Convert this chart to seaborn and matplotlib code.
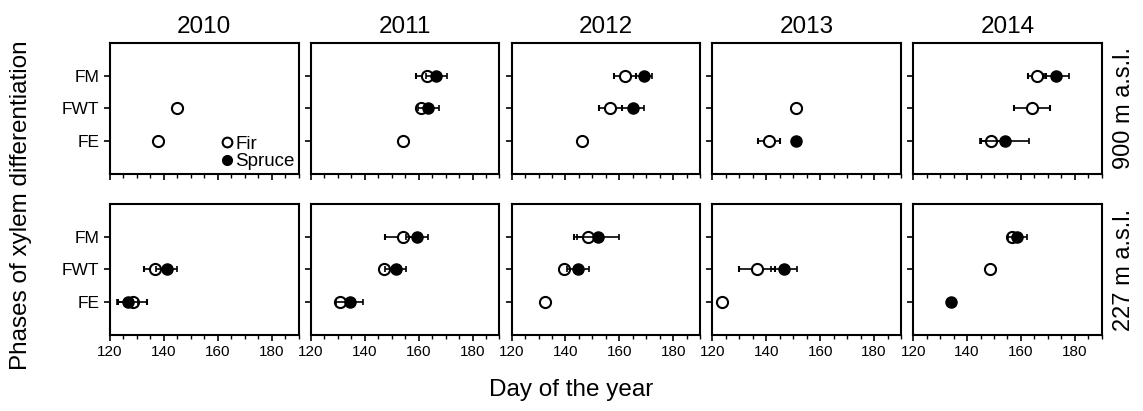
import numpy as np
import pandas as pd
import matplotlib.pyplot as plt
import seaborn as sns
from matplotlib.ticker import MultipleLocator
from matplotlib.lines import Line2D

# ---- data (day of year) ----
sites = ["900 m a.s.l.", "227 m a.s.l."]
years = [2010, 2011, 2012, 2013, 2014]
phases = ["FE", "FWT", "FM"]
nan = np.nan

# order: site -> year -> phase (FE, FWT, FM)
fir_day = [138, 145, nan,   154.1, 161, 163.2,   146, 156.7, 162.1,   140.9, 151, nan,   148.8, 164, 165.9,
           128.4, 136.6, nan,   131, 147.1, 154.2,   132.5, 139.4, 148.5,   123.6, 136.6, nan,   nan, 148.4, 156.6]
fir_err = [0, 0, nan,   0, 1.7, 4,   0, 4.4, 4,   4.1, 0, nan,   3.8, 6.6, 3.4,
           5.4, 4, nan,   0, 0, 6.6,   0, 0, 5.3,   0, 6.6, nan,   nan, 0, 0]
spruce_day = [nan, nan, nan,   nan, 163.5, 166.6,   nan, 165.1, 169.1,   151, nan, nan,   153.9, nan, 173.1,
              126.6, 141, nan,   134.5, 151.5, 159.5,   nan, 144.7, 152,   nan, 146.6, nan,   134.1, nan, 158.7]
spruce_err = [nan, nan, nan,   nan, 3.9, 3.9,   nan, 4, 3,   0, nan, nan,   9, nan, 4.6,
              3.9, 4, nan,   5, 4, 4,   nan, 4.1, 7.7,   nan, 4.9, nan,   0, nan, 3.6]

rows = []
i = 0
for s in sites:
    for y in years:
        for p in phases:
            rows.append(dict(site=s, year=y, phase=p, pos=phases.index(p) + 1,
                             fir=fir_day[i], fir_err=fir_err[i],
                             spruce=spruce_day[i], spruce_err=spruce_err[i]))
            i += 1
df = pd.DataFrame(rows)

sns.set_style("ticks", rc={"text.color": "black", "axes.labelcolor": "black",
                           "xtick.color": "black", "ytick.color": "black",
                           "axes.edgecolor": "black"})
plt.rcParams['font.family'] = ['Liberation Sans', 'DejaVu Sans']


def draw(data, **kws):
    ax = plt.gca()
    ax.errorbar(data["fir"], data["pos"], xerr=data["fir_err"], fmt="o", color="black",
                mfc="white", mec="black", mew=1.5, ms=8, elinewidth=1.2, capsize=2.5,
                capthick=1.2, zorder=3)
    ax.errorbar(data["spruce"], data["pos"], xerr=data["spruce_err"], fmt="o", color="black",
                mfc="black", mec="black", ms=8, elinewidth=1.2, capsize=2.5,
                capthick=1.2, zorder=4)


g = sns.FacetGrid(df, row="site", col="year", row_order=sites, col_order=years,
                  height=2, aspect=1.4, despine=False, sharex=True, sharey=True)
g.map_dataframe(draw)
g.figure.set_size_inches(11.43, 4.11)
g.figure.subplots_adjust(left=0.0962, right=0.964, top=0.8954, bottom=0.185,
                         wspace=0.064, hspace=0.23)

for (r, c), ax in np.ndenumerate(g.axes):
    ax.set_title("")
    ax.set_xlabel("")
    ax.set_ylabel("")
    ax.set_xlim(120, 190)
    ax.set_ylim(0, 4)
    ax.xaxis.set_major_locator(MultipleLocator(20))
    ax.xaxis.set_minor_locator(MultipleLocator(5))
    ax.set_yticks([1, 2, 3])
    ax.set_yticklabels(phases)
    ax.tick_params(axis="both", which="major", length=4, width=1.2)
    ax.tick_params(axis="x", labelsize=11)
    ax.tick_params(axis="y", labelsize=12.5)
    ax.tick_params(axis="x", which="minor", length=3, width=1.0)
    for sp in ax.spines.values():
        sp.set_linewidth(1.5)
    if r == 0:
        ax.set_title(str(years[c]), fontsize=17.5, pad=7)
        ax.tick_params(axis="x", labelbottom=False)
    if c > 0:
        ax.tick_params(axis="y", labelleft=False)

for r, s in enumerate(sites):
    bb = g.axes[r, -1].get_position()
    g.figure.text(0.983, (bb.y0 + bb.y1) / 2, s, rotation=90, ha="center", va="center",
                  fontsize=17)

g.figure.text(0.5, 0.052, "Day of the year", ha="center", va="center", fontsize=17.5)
g.figure.text(0.018, 0.5, "Phases of xylem differentiation", rotation=90,
              ha="center", va="center", fontsize=17.5)

handles = [Line2D([], [], ls="none", marker="o", ms=7, mfc="white", mec="black", mew=1.5),
           Line2D([], [], ls="none", marker="o", ms=7, mfc="black", mec="black")]
g.axes[0, 0].legend(handles, ["Fir", "Spruce"], loc="lower right", frameon=False,
                    fontsize=13.5, handlelength=0.6, handletextpad=0.15,
                    labelspacing=0.0, borderaxespad=0.1, borderpad=0.1)

g.figure.savefig("out.png", dpi=100)
